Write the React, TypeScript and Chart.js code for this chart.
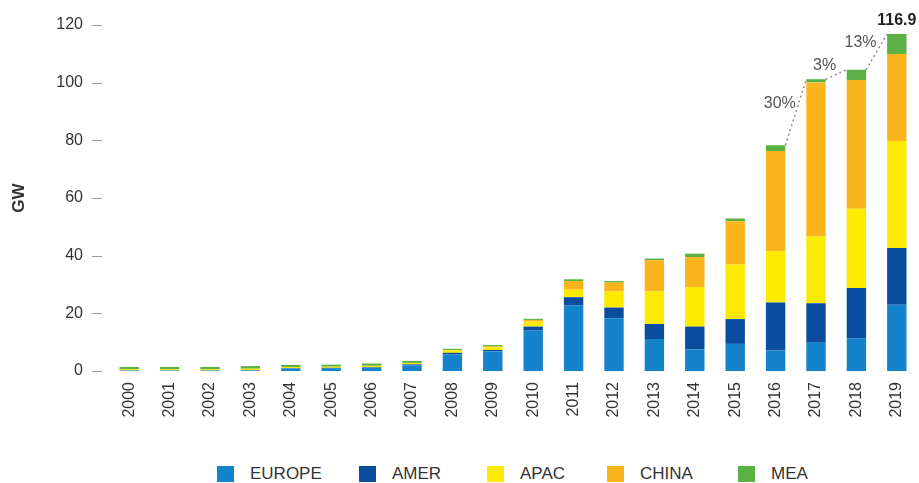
import React, { useEffect, useRef } from "react";
import { Chart, registerables } from "chart.js";

Chart.register(...registerables);

const years = ["2000","2001","2002","2003","2004","2005","2006","2007","2008","2009","2010","2011","2012","2013","2014","2015","2016","2017","2018","2019"];
const europe = [0.1,0.1,0.1,0.2,0.9,1.0,1.1,2.0,5.8,6.8,14.0,22.7,18.3,11.1,7.5,9.4,7.1,9.8,11.4,23.0];
const amer = [0.1,0.1,0.1,0.1,0.1,0.1,0.2,0.3,0.5,0.5,1.4,2.9,3.7,5.2,7.9,8.6,16.7,13.7,17.4,19.7];
const apac = [0.4,0.4,0.4,0.5,0.4,0.4,0.5,0.5,0.9,1.0,1.7,2.6,5.6,11.3,13.7,18.9,17.7,23.2,27.5,37.1];
const china = [0,0,0,0,0,0,0,0,0.1,0.2,0.6,3.0,3.1,10.8,10.4,15.0,34.8,53.4,44.6,30.1];
const mea = [0.8,0.8,0.8,0.9,0.7,0.7,0.8,0.7,0.4,0.5,0.4,0.6,0.5,0.6,1.2,1.0,2.0,1.1,3.6,7.0];
const growthLabels = ["30%", "3%", "13%"]; // 2016→2017, 2017→2018, 2018→2019
const growthStartIndex = 16;
const totalLabel = "116.9";
const yTicks = [0, 20, 40, 60, 80, 100, 120];

const seriesNames = ["EUROPE", "AMER", "APAC", "CHINA", "MEA"];
const seriesColors = ["#1583cb", "#0a4d9e", "#fcea00", "#fab51c", "#5bb146"];
const seriesData = [europe, amer, apac, china, mea];

const FONT = "'Liberation Sans', Arial, Helvetica, sans-serif";

const annotPlugin = {
  id: "annot",
  afterDraw(chart: any) {
    const ctx = chart.ctx;
    const area = chart.chartArea;
    const yScale = chart.scales.y;
    ctx.save();
    ctx.strokeStyle = "#9a9a9a";
    ctx.lineWidth = 1;
    yTicks.forEach((v) => {
      const y = Math.round(yScale.getPixelForValue(v)) + 0.5;
      ctx.beginPath();
      ctx.moveTo(area.left - 17, y);
      ctx.lineTo(area.left - 7, y);
      ctx.stroke();
    });
    const top = chart.getDatasetMeta(seriesData.length - 1).data;
    ctx.strokeStyle = "#8a8f99";
    ctx.lineWidth = 1.5;
    ctx.setLineDash([2, 3]);
    for (let k = 0; k < growthLabels.length; k++) {
      const a = top[growthStartIndex + k];
      const b = top[growthStartIndex + k + 1];
      ctx.beginPath();
      ctx.moveTo(a.x + a.width / 2, a.y);
      ctx.lineTo(b.x - b.width / 2, b.y);
      ctx.stroke();
    }
    ctx.setLineDash([]);
    ctx.fillStyle = "#555";
    ctx.font = `16px ${FONT}`;
    ctx.textAlign = "right";
    ctx.textBaseline = "middle";
    for (let k = 0; k < growthLabels.length; k++) {
      const a = top[growthStartIndex + k];
      const b = top[growthStartIndex + k + 1];
      const mx = (a.x + a.width / 2 + b.x - b.width / 2) / 2;
      const my = (a.y + b.y) / 2;
      ctx.fillText(growthLabels[k], mx, my - 9);
    }
    const last = top[top.length - 1];
    ctx.fillStyle = "#222";
    ctx.font = `bold 16px ${FONT}`;
    ctx.textAlign = "center";
    ctx.fillText(totalLabel, last.x, last.y - 13);
    ctx.restore();
  },
};

export default function App() {
  const ref = useRef<HTMLCanvasElement>(null);
  useEffect(() => {
    if (!ref.current) return;
    const chart = new Chart(ref.current, {
      type: "bar",
      data: {
        labels: years,
        datasets: seriesNames.map((n, i) => ({
          label: n,
          data: seriesData[i],
          backgroundColor: seriesColors[i],
          borderWidth: 0,
          barPercentage: 0.8,
          categoryPercentage: 0.6,
        })),
      },
      options: {
        animation: false,
        responsive: true,
        maintainAspectRatio: false,
        layout: { padding: { top: 25, right: 2, left: 0, bottom: 0 } },
        plugins: { legend: { display: false }, tooltip: { enabled: false } },
        scales: {
          x: {
            stacked: true,
            grid: { display: false, drawTicks: false },
            border: { display: false },
            ticks: {
              maxRotation: 90,
              minRotation: 90,
              padding: 11,
              color: "#333",
              font: { family: FONT, size: 16 },
            },
            afterFit: (s: any) => { s.height = 84; s.paddingLeft = 0; s.paddingRight = 0; },
          },
          y: {
            stacked: true,
            min: 0,
            max: 120,
            grid: { display: false, drawTicks: false },
            border: { display: false },
            ticks: {
              stepSize: 20,
              padding: 26,
              color: "#333",
              font: { family: FONT, size: 16 },
            },
            title: {
              display: true,
              text: "GW",
              color: "#333",
              font: { family: FONT, size: 17, weight: "bold" },
              padding: { top: 9, bottom: 0 },
            },
            afterFit: (s: any) => { s.width = 109; s.paddingTop = 0; s.paddingBottom = 0; },
          },
        },
      },
      plugins: [annotPlugin],
    });
    return () => chart.destroy();
  }, []);

  const legendLefts = [217, 359, 487, 607, 738];
  return (
    <div style={{ position: "fixed", left: 0, top: 0, width: 919, height: 483, background: "#fff", overflow: "hidden" }}>
      <div style={{ position: "absolute", left: 0, top: 0, width: 919, height: 455 }}>
        <canvas ref={ref} />
      </div>
      {seriesNames.map((n, i) => (
        <div key={n} style={{ position: "absolute", left: legendLefts[i], top: 466, height: 16, display: "flex", alignItems: "center", fontFamily: FONT, fontSize: 17, color: "#333", whiteSpace: "nowrap" }}>
          <span style={{ display: "inline-block", width: 17, height: 16, background: seriesColors[i], marginRight: 16 }} />
          <span>{n}</span>
        </div>
      ))}
    </div>
  );
}
